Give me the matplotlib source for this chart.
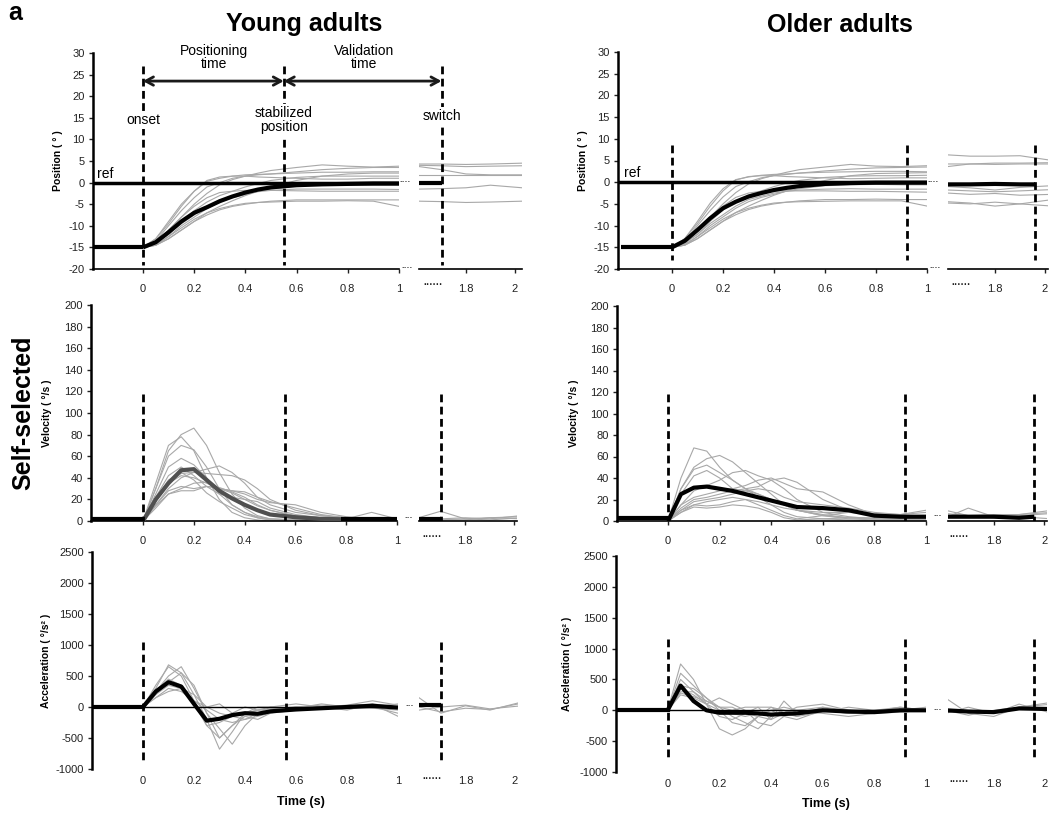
import matplotlib
matplotlib.use("Agg")
import matplotlib.pyplot as plt

plt.rcParams['font.family'] = ['Liberation Sans', 'DejaVu Sans']
plt.rcParams['axes.unicode_minus'] = False

W, H = 1064, 814

# ---- time grids (s) ----
t_pre = [-0.2, 0]
t = [0, 0.05, 0.1, 0.15, 0.2, 0.25, 0.3, 0.35, 0.4, 0.45, 0.5, 0.6, 0.7, 0.8, 0.9, 1.0]
t_tail = [1.61, 1.7, 1.8, 1.9, 2.03]

# event times: onset, stabilized position, switch
events_young = [0, 0.55, 1.70]
events_old = [0, 0.92, 1.96]

# ---- position (deg) ----
pos_young_mean = [-15, -13.8, -11.5, -9, -7, -5.7, -4.3, -3.2, -2.3, -1.6, -1.1, -0.6, -0.4, -0.3, -0.2, -0.2]
pos_young = [
    [-15, -13, -9, -5, -2, 0.3, 1, 1.5, 1.8, 1.9, 2, 2.2, 2.4, 2.4, 2.5, 2.5],
    [-15, -14, -11, -8, -5, -2.5, -0.5, 0.7, 1.5, 2.2, 2.8, 3.5, 4.1, 3.8, 3.6, 3.8],
    [-15, -13.5, -10, -6.5, -3.5, -1, 0, 1, 1.5, 1.8, 2, 2.5, 3, 3.3, 3.5, 3.5],
    [-15, -14, -12, -9, -6.5, -4.5, -3, -2, -1, -0.2, 0.5, 1.2, 1.5, 1.5, 1.5, 1.5],
    [-15, -14, -12, -9.5, -7.5, -5.5, -4, -3.2, -2.5, -2.1, -1.8, -1.5, -1.5, -1.5, -1.5, -1.6],
    [-15, -14.5, -13, -11, -9, -7.5, -6.3, -5.5, -5, -4.6, -4.3, -4, -4, -4, -4, -4],
    [-15, -14.3, -12.5, -10.5, -8.5, -7, -6, -5.3, -4.8, -4.6, -4.5, -4.3, -4.3, -4.2, -4.3, -5.5],
    [-15, -14.5, -12.5, -10, -8, -6, -4.5, -3.5, -2.8, -2, -1.5, -0.8, -0.5, -0.5, -0.6, -0.6],
    [-15, -14.5, -13, -11, -9, -7, -5.5, -4.2, -3, -2, -1, 0.5, 1.5, 2, 2.2, 2.2],
    [-15, -13.8, -11, -8, -5.5, -3.5, -2.3, -2, -1.8, -1.8, -1.8, -1.9, -2, -2, -2, -2],
    [-15, -13, -9.5, -5.5, -2, 0.5, 1.3, 1.5, 1.5, 1.3, 1.2, 1, 0.8, 0.8, 1, 1],
]
pos_young_tail_x = [1.61, 1.70]
pos_young_tail_mean = [0, 0]
pos_young_tail = [
    [4.3, 4.3, 4.2, 4.3, 4.5],
    [4.0, 3.9, 3.7, 3.8, 3.9],
    [3.7, 3.0, 2.0, 1.8, 1.8],
    [1.7, 1.7, 1.7, 1.7, 1.7],
    [-1.5, -1.4, -1.2, -0.6, -1.2],
    [-4.3, -4.4, -4.6, -4.5, -4.3],
]

pos_old_mean = [-15, -13.5, -11, -8.3, -6, -4.5, -3.3, -2.5, -1.8, -1.3, -0.9, -0.4, -0.2, -0.1, -0.1, -0.1]
pos_old = [
    [-15, -13, -9, -4.8, -1.5, 0.6, 1.2, 1.6, 1.8, 1.9, 2.1, 2.3, 2.4, 2.5, 2.5, 2.4],
    [-15, -14, -11, -8, -5, -2.4, -0.4, 0.8, 1.6, 2.3, 2.9, 3.5, 4.1, 3.7, 3.6, 3.8],
    [-15, -13.5, -10, -6.5, -3.4, -1, 0.1, 1, 1.5, 1.8, 2.1, 2.6, 3, 3.3, 3.4, 3.5],
    [-15, -14, -12, -9, -6.4, -4.4, -3, -2, -1, -0.2, 0.4, 1.1, 1.4, 1.5, 1.5, 1.6],
    [-15, -14, -12, -9.5, -7.5, -5.5, -4, -3.2, -2.5, -2.1, -1.8, -1.6, -1.5, -1.6, -1.6, -1.6],
    [-15, -14.5, -13, -11, -9, -7.5, -6.3, -5.5, -5, -4.6, -4.3, -4, -4, -3.9, -4, -4],
    [-15, -14.3, -12.5, -10.5, -8.5, -7, -6, -5.3, -4.8, -4.6, -4.5, -4.4, -4.3, -4.3, -4.3, -5.5],
    [-15, -14.5, -12.5, -10, -8, -6, -4.5, -3.5, -2.8, -2, -1.5, -0.8, -0.6, -0.5, -0.6, -0.6],
    [-15, -14.5, -13, -11, -9, -7, -5.5, -4.2, -3, -2, -1, 0.4, 1.5, 2, 2.1, 2.2],
    [-15, -13.8, -11, -8, -5.5, -3.5, -2.5, -2.1, -2, -2, -2, -2, -2.1, -2.1, -2.2, -2.3],
    [-15, -13, -9.5, -5.5, -2, 0.5, 1.3, 1.5, 1.5, 1.3, 1.2, 1, 0.8, 0.9, 1, 1],
]
pos_old_tail_x = [1.61, 1.7, 1.8, 1.9, 1.96]
pos_old_tail_mean = [-0.5, -0.5, -0.4, -0.5, -0.5]
pos_old_tail = [
    [6.3, 6.0, 6.0, 6.1, 5.0],
    [3.6, 4.2, 4.4, 4.4, 4.5],
    [4.2, 4.2, 4.1, 4.2, 4.2],
    [-1.0, -1.3, -1.8, -1.2, -0.8],
    [-1.8, -2.0, -2.2, -2.0, -1.7],
    [-2.5, -2.8, -2.6, -3.0, -2.8],
    [-4.5, -4.8, -5.5, -5.0, -4.0],
    [-4.8, -5.0, -4.6, -5.0, -5.5],
]

# ---- velocity (deg/s) ----
vel_young_rest = 2
vel_young_rest_spans = [(-0.2, 0), (0.78, 1.0)]
vel_young_mean = [0, 20, 35, 47, 48, 38, 28, 21, 15, 10, 6, 3.5, 2, 1.5, 1.5, 1.5]
vel_young = [
    [0, 30, 65, 80, 86, 70, 45, 25, 12, 5, 2, 1, 1, 1, 2, 1],
    [0, 35, 70, 78, 65, 40, 20, 8, 3, 1, 0, 0, 0, 0, 0, 0],
    [0, 30, 60, 70, 66, 50, 30, 15, 8, 4, 2, 1, 1, 1, 0, 0],
    [0, 25, 50, 58, 52, 40, 25, 15, 8, 3, 1, 0, 0, 0, 0, 0],
    [0, 15, 30, 40, 45, 48, 51, 45, 35, 22, 15, 8, 5, 3, 3, 2],
    [0, 18, 35, 44, 45, 44, 43, 42, 38, 30, 20, 10, 5, 3, 2, 1],
    [0, 20, 35, 42, 40, 35, 30, 28, 25, 20, 17, 15, 8, 4, 2, 1],
    [0, 15, 28, 32, 30, 32, 30, 28, 27, 22, 18, 12, 6, 3, 2, 2],
    [0, 12, 25, 30, 35, 36, 30, 26, 20, 14, 10, 5, 3, 2, 8, 2],
    [0, 20, 38, 45, 38, 26, 18, 12, 6, 3, 1, 0, 0, 0, 0, 0],
    [0, 14, 25, 28, 28, 32, 31, 27, 22, 15, 10, 4, 2, 1, 1, 1],
    [0, 22, 42, 50, 42, 32, 25, 22, 20, 18, 12, 6, 3, 2, 1, 1],
]
vel_young_tail_x = [1.61, 1.70]
vel_young_tail_mean = [2, 2]
vel_young_tail = [
    [3, 9, 2, 3, 4],
    [1, 2, 3, 2, 5],
    [0, 1, 2, 1, 3],
    [2, 1, 1, 3, 2],
]

vel_old_rest = 3
vel_old_mean = [0, 25, 31, 32, 30, 28, 25, 22, 19, 16, 13, 12, 10, 5, 4, 4]
vel_old = [
    [0, 40, 68, 65, 50, 38, 30, 22, 15, 8, 4, 2, 1, 0, 0, 0],
    [0, 30, 50, 58, 61, 55, 45, 35, 25, 15, 10, 5, 2, 1, 1, 1],
    [0, 30, 48, 52, 45, 38, 30, 25, 20, 15, 10, 5, 3, 2, 2, 2],
    [0, 25, 42, 47, 40, 30, 28, 25, 20, 15, 10, 6, 3, 2, 2, 2],
    [0, 15, 28, 33, 38, 45, 47, 42, 38, 30, 20, 8, 4, 2, 2, 2],
    [0, 15, 22, 25, 28, 30, 33, 38, 40, 35, 30, 27, 15, 6, 4, 3],
    [0, 12, 20, 22, 25, 28, 30, 32, 38, 40, 36, 20, 10, 5, 4, 4],
    [0, 10, 18, 20, 22, 25, 28, 30, 28, 22, 18, 15, 12, 8, 6, 8],
    [0, 10, 15, 14, 15, 18, 20, 18, 15, 12, 10, 8, 8, 7, 6, 10],
    [0, 8, 15, 18, 20, 22, 20, 15, 10, 5, 2, 5, 8, 6, 5, 5],
    [0, 8, 13, 12, 13, 15, 14, 12, 8, 3, 1, 2, 3, 3, 3, 3],
]
vel_old_tail_x = [1.61, 1.7, 1.8, 1.9, 1.96]
vel_old_tail_mean = [4, 4, 4, 3, 4]
vel_old_tail = [
    [10, 5, 6, 6, 10],
    [3, 12, 4, 5, 7],
    [7, 5, 3, 4, 2],
    [5, 4, 5, 6, 8],
]

# ---- acceleration (deg/s^2) ----
acc_young_mean = [0, 250, 400, 330, 50, -220, -190, -130, -100, -110, -70, -40, -20, 0, 20, -10]
acc_young = [
    [0, 350, 650, 500, 100, -300, -500, -300, -100, -50, -50, -30, 0, 20, 50, -150],
    [0, 300, 680, 550, 200, -200, -680, -400, -100, 0, 0, -20, 50, 0, -20, -50],
    [0, 250, 500, 650, 300, -100, -350, -600, -300, -100, -50, 0, 30, 0, 30, 0],
    [0, 200, 400, 550, 350, -100, -500, -300, -150, -200, -100, -50, 0, -50, 50, 0],
    [0, 200, 350, 300, 100, 0, -100, -150, -200, -100, 0, 50, 0, 30, 100, 30],
    [0, 150, 300, 250, 100, -50, -200, -250, -200, -150, -100, 0, -30, 0, 0, 50],
    [0, 150, 250, 300, 200, 0, 50, -100, 0, -50, 0, -50, 0, -30, 0, 0],
    [0, 250, 450, 350, 50, -300, -250, -150, -100, -50, -30, 0, -20, 0, 0, -100],
]
acc_young_tail_x = [1.61, 1.70]
acc_young_tail_mean = [30, 30]
acc_young_tail = [
    [150, -100, 20, -50, 80],
    [-50, 0, 30, -30, 20],
    [0, -80, -20, -40, 60],
]

acc_old_mean = [0, 400, 150, 0, -40, -40, -40, -50, -70, -60, -50, 0, -20, -30, 0, 0]
acc_old = [
    [0, 750, 500, 100, -300, -400, -300, -100, 0, 50, 0, 50, -50, -30, 0, 50],
    [0, 600, 400, 200, 0, -200, -250, -100, 50, -50, -100, 50, 0, -20, 50, 0],
    [0, 500, 300, 100, 200, 100, 0, -200, -250, -100, 0, -50, -100, -50, 0, 0],
    [0, 400, 350, 200, 50, -100, -200, -300, -100, 0, -50, 0, -50, 0, 0, 0],
    [0, 300, 300, 150, 50, 0, 50, 50, -150, 150, -50, 0, 0, -30, 0, 0],
    [0, 350, 250, 100, -100, -150, -50, 50, 50, 0, -100, -30, 50, 0, 0, 0],
    [0, 250, 200, 100, 0, -50, -100, -50, 0, -100, -150, 0, -50, 0, 50, 0],
    [0, 280, 220, 150, 50, 50, -50, -100, -150, -50, 50, 100, 0, -50, -30, 0],
]
acc_old_tail_x = [1.61, 1.7, 1.8, 1.9, 2.03]
acc_old_tail_mean = [0, -20, -30, 30, 20]
acc_old_tail = [
    [200, -50, -100, 50, 100],
    [-50, 50, -50, 100, -50],
    [0, -80, 0, 50, 130],
]

GREY = '#a8a8a8'


def rect(l, t_, r, b):
    return [l / W, 1 - b / H, (r - l) / W, (b - t_) / H]


fig = plt.figure(figsize=(W / 100, H / 100), dpi=100)


def style(ax, ylim, yticks, show_y=True, bottom=True):
    ax.set_ylim(*ylim)
    ax.patch.set_visible(False)
    for s in ['top', 'right']:
        ax.spines[s].set_visible(False)
    ax.spines['bottom'].set_linewidth(1.2)
    if bottom:
        ax.tick_params(axis='x', length=3, width=1, pad=8, labelsize=8, colors='#222222')
    else:
        ax.spines['bottom'].set_visible(False)
        ax.tick_params(axis='x', length=0, pad=5, labelsize=8, colors='#222222')
    if show_y:
        ax.spines['left'].set_linewidth(1.8)
        ax.set_yticks(yticks)
        ax.tick_params(axis='y', length=3, width=1, pad=3, labelsize=8, colors='#222222')
    else:
        ax.spines['left'].set_visible(False)
        ax.set_yticks([])


def panel(main_px, tail_px, xl, xt, ylim, yticks, ylabel, mean, greys, tmx, tmean,
          tgreys, events, dash_span, mean_color='black', labelpad=4, bottom=True):
    ax = fig.add_axes(rect(*main_px))
    ax2 = fig.add_axes(rect(*tail_px))
    style(ax, ylim, yticks, bottom=bottom)
    style(ax2, ylim, yticks, show_y=False, bottom=bottom)
    ax.set_xlim(*xl)
    ax2.set_xlim(*xt)
    ax.set_xticks([0, 0.2, 0.4, 0.6, 0.8, 1])
    ax.set_xticklabels(['0', '0.2', '0.4', '0.6', '0.8', '1'])
    ax.spines['bottom'].set_bounds(xl[0], 1.0)
    ax2.set_xticks([1.8, 2.0])
    ax2.set_xticklabels(['1.8', '2'])
    ax2.text(1.665, -0.075 if bottom else -0.045, '······', transform=ax2.get_xaxis_transform(),
             ha='center', va='center', fontsize=7, fontweight='bold', color='#222222')
    ax.set_ylabel(ylabel, fontsize=7.5, fontweight='bold', labelpad=labelpad)

    for g in greys:
        ax.plot(t, g, color=GREY, lw=0.8, zorder=2)
    for g in tgreys:
        ax2.plot(t_tail, g, color=GREY, lw=0.8, zorder=2)
    ax.plot(t, mean, color=mean_color, lw=3, zorder=4, solid_capstyle='butt')
    ax2.plot(tmx, tmean, color='black', lw=3, zorder=4, solid_capstyle='butt')

    for e in events[:2]:
        ax.plot([e, e], dash_span, color='black', lw=2, ls=(0, (2.8, 1.6)), zorder=5)
    ax2.plot([events[2], events[2]], dash_span, color='black', lw=2, ls=(0, (2.8, 1.6)), zorder=5)
    return ax, ax2


# ----- Young adults -----
ax, ax2 = panel((93, 53, 399, 269), (419, 53, 522, 269), (-0.195, 1.0), (1.608, 2.029),
                (-20, 30), range(-20, 31, 5), 'Position ( ° )', pos_young_mean, pos_young,
                pos_young_tail_x, pos_young_tail_mean, pos_young_tail, events_young, [27, -19],
                labelpad=4)
ax.plot(t_pre, [pos_young_mean[0]] * 2, color='black', lw=3, zorder=4, solid_capstyle='butt')
ax.axhline(0, color='black', lw=2.5, zorder=3)
ax.text(-0.18, 0.4, 'ref', fontsize=10, va='bottom')
ax.text(1.0, 0, '····', fontsize=6, fontweight='bold', va='center', clip_on=False)
ax.text(1.01, -20, '····', fontsize=6, fontweight='bold', va='center', clip_on=False)
bb = dict(facecolor='white', edgecolor='none', pad=1.5)
ax.text(0, 14.5, 'onset', ha='center', va='center', fontsize=10, bbox=bb, zorder=6)
ax.text(0.55, 14.5, 'stabilized\nposition', ha='center', va='center', fontsize=10,
        linespacing=1.0, bbox=bb, zorder=6)
ax2.text(events_young[2], 15.5, 'switch', ha='center', va='center', fontsize=10, bbox=bb, zorder=6)
ax.text(0.277, 25.8, 'Positioning\ntime', ha='center', va='bottom', fontsize=10, linespacing=0.95)
ax.text(0.865, 25.8, 'Validation\ntime', ha='center', va='bottom', fontsize=10, linespacing=0.95)
arrow = dict(arrowstyle='<->,head_length=0.55,head_width=0.3', lw=2, color='#1a1a1a',
             shrinkA=0, shrinkB=0)
ax.annotate('', xy=(0.55, 23.5), xytext=(0, 23.5), arrowprops=arrow, annotation_clip=False, zorder=6)
ax.annotate('', xy=(events_young[2], 23.5), xycoords=ax2.transData, xytext=(0.55, 23.5),
            textcoords=ax.transData, arrowprops=arrow, annotation_clip=False, zorder=6)

ax, ax2 = panel((91, 305, 397, 521), (419, 305, 517, 521), (-0.205, 1.0), (1.612, 2.012),
                (0, 200), range(0, 201, 20), 'Velocity ( °/s )', vel_young_mean, vel_young,
                vel_young_tail_x, vel_young_tail_mean, vel_young_tail, [0, 0.56, 1.70], [118, 0],
                mean_color='#505050', labelpad=9)
for a, b in vel_young_rest_spans:
    ax.plot([a, b], [vel_young_rest] * 2, color='black', lw=3, zorder=4, solid_capstyle='butt')
ax.text(1.03, 2, '···', fontsize=6, fontweight='bold', va='center', clip_on=False)

ax, ax2 = panel((92, 552, 398, 769), (419, 552, 518, 769), (-0.2, 1.0), (1.61, 2.015),
                (-1000, 2500), range(-1000, 2501, 500), 'Acceleration ( °/s² )', acc_young_mean,
                acc_young, acc_young_tail_x, acc_young_tail_mean, acc_young_tail, [0, 0.56, 1.70],
                [1050, -850], labelpad=3, bottom=False)
ax.plot(t_pre, [0, 0], color='black', lw=3, zorder=4)
ax.axhline(0, color='black', lw=1, zorder=3)
ax.text(1.03, 0, '···', fontsize=6, fontweight='bold', va='center', clip_on=False)

# ----- Older adults -----
ax, ax2 = panel((618, 52, 927, 269), (948, 52, 1048, 269), (-0.212, 1.0), (1.612, 2.012),
                (-20, 30), range(-20, 31, 5), 'Position ( ° )', pos_old_mean, pos_old,
                pos_old_tail_x, pos_old_tail_mean, pos_old_tail, events_old, [8.5, -18],
                labelpad=4)
ax.plot(t_pre, [pos_old_mean[0]] * 2, color='black', lw=3, zorder=4, solid_capstyle='butt')
ax.axhline(0, color='black', lw=2.5, zorder=3)
ax.text(-0.19, 0.4, 'ref', fontsize=10, va='bottom')
ax.text(1.0, 0, '····', fontsize=6, fontweight='bold', va='center', clip_on=False)
ax.text(1.01, -20, '····', fontsize=6, fontweight='bold', va='center', clip_on=False)

ax, ax2 = panel((617, 306, 926, 521), (948, 306, 1047, 521), (-0.198, 1.0), (1.62, 2.01),
                (0, 200), range(0, 201, 20), 'Velocity ( °/s )', vel_old_mean, vel_old,
                vel_old_tail_x, vel_old_tail_mean, vel_old_tail, events_old, [118, 0], labelpad=8)
ax.plot(t_pre, [vel_old_rest] * 2, color='black', lw=3, zorder=4, solid_capstyle='butt')
ax.text(1.03, 4, '···', fontsize=6, fontweight='bold', va='center', clip_on=False)

ax, ax2 = panel((616, 556, 926, 772), (948, 556, 1047, 772), (-0.2, 1.0), (1.62, 2.01),
                (-1000, 2500), range(-1000, 2501, 500), 'Acceleration ( °/s² )', acc_old_mean,
                acc_old, acc_old_tail_x, acc_old_tail_mean, acc_old_tail, events_old,
                [1150, -750], labelpad=5, bottom=False)
ax.plot(t_pre, [0, 0], color='black', lw=3, zorder=4)
ax.axhline(0, color='black', lw=1, zorder=3)
ax.text(1.03, 0, '···', fontsize=6, fontweight='bold', va='center', clip_on=False)

# ----- titles and shared labels -----
fig.text(15 / W, 1 - 13 / H, 'a', fontsize=18, fontweight='bold', ha='center', va='center')
fig.text(304 / W, 1 - 24 / H, 'Young adults', fontsize=18, fontweight='bold', ha='center', va='center')
fig.text(840 / W, 1 - 25 / H, 'Older adults', fontsize=18, fontweight='bold', ha='center', va='center')
fig.text(23 / W, 1 - 413 / H, 'Self-selected', fontsize=18, fontweight='bold', rotation=90,
         ha='center', va='center')
fig.text(301 / W, 1 - 802 / H, 'Time (s)', fontsize=9, fontweight='bold', ha='center', va='center')
fig.text(826 / W, 1 - 804 / H, 'Time (s)', fontsize=9, fontweight='bold', ha='center', va='center')

fig.savefig('out.png', dpi=100)
